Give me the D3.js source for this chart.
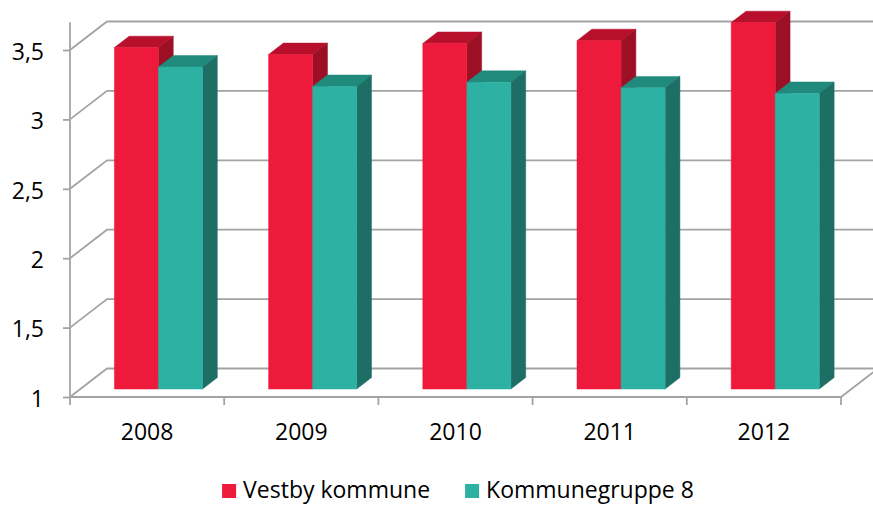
<!DOCTYPE html>
<html>
<head>
<meta charset="utf-8">
<script src="https://cdn.jsdelivr.net/npm/d3@7"></script>
<style>
  html, body { margin: 0; padding: 0; background: #fff; }
  svg { display: block; font-family: "Open Sans", sans-serif; }
</style>
</head>
<body>
<svg width="873" height="505"></svg>
<script>
// Data
const years = ["2008", "2009", "2010", "2011", "2012"];
const seriesNames = ["Vestby kommune", "Kommunegruppe 8"];
const vestby = [3.46, 3.41, 3.49, 3.51, 3.64];
const kommunegruppe = [3.32, 3.18, 3.21, 3.17, 3.13];
const yTicks = [1, 1.5, 2, 2.5, 3, 3.5];
const yAxisTop = 3.7;

// Colours: front, top, side for each series
const colors = [
  { front: "#ee1a3b", top: "#b8102c", side: "#9c1025" },
  { front: "#2cb1a3", top: "#208a7c", side: "#1d6f66" }
];

const width = 873, height = 505;
const depthX = 37, depthY = 28.5;   // offset from front to back wall
const barZ0 = 0.28, barZ1 = 0.68;   // bar depth inside the floor

const svg = d3.select("svg");

const x = d3.scaleBand().domain(years).range([70, 841]);
const xs = d3.scaleBand().domain(seriesNames).range([1, x.bandwidth() + 1]).paddingOuter(0.75);
const y = d3.scaleLinear().domain([1, 3.5]).range([397, 50]);

const proj = (px, v, z) => [px + z * depthX, y(v) - z * depthY];

const fmt = d3.formatLocale({ decimal: ",", thousands: " ", grouping: [3], currency: ["", " kr"] }).format("~g");

// Walls / gridlines
const grid = svg.append("g")
  .attr("fill", "none")
  .attr("stroke", "#a3a3a3")
  .attr("stroke-width", 1.8);

yTicks.forEach(v => {
  const a = proj(x.range()[0], v, 0), b = proj(x.range()[0], v, 1);
  grid.append("polyline")
    .attr("points", [a, b, [width + 10, b[1]]].map(p => p.join(",")).join(" "));
});

// floor front edge and right edge
const fl = proj(x.range()[0], 1, 0), fr = proj(x.range()[1], 1, 0), br = proj(x.range()[1], 1, 1);
grid.append("polyline").attr("points", [fl, fr, br].map(p => p.join(",")).join(" "));

// vertical axis line
grid.append("line")
  .attr("x1", x.range()[0]).attr("x2", x.range()[0])
  .attr("y1", y(1)).attr("y2", y(yAxisTop));

// x ticks at category boundaries
const bounds = years.map(d => x(d)).concat([x.range()[1]]);
grid.selectAll(".xt").data(bounds).join("line")
  .attr("x1", d => d).attr("x2", d => d)
  .attr("y1", y(1)).attr("y2", y(1) + 8);

// y ticks and labels
const yAxis = svg.append("g")
  .attr("transform", `translate(${x.range()[0]},0)`)
  .call(d3.axisLeft(y).tickValues(yTicks).tickSize(7).tickPadding(19).tickFormat(fmt));
yAxis.select(".domain").remove();
yAxis.selectAll(".tick line").attr("stroke", "#a3a3a3").attr("stroke-width", 1.8);
yAxis.selectAll(".tick text")
  .attr("font-family", "Open Sans, sans-serif")
  .attr("font-size", 23)
  .attr("fill", "#000")
  .attr("dy", "0.4em");

// x labels
svg.append("g").selectAll("text").data(years).join("text")
  .attr("x", d => x(d) + x.bandwidth() / 2)
  .attr("y", 440)
  .attr("text-anchor", "middle")
  .attr("font-size", 23)
  .text(d => d);

// Bars (left to right so later bars cover earlier side faces)
const values = [vestby, kommunegruppe];
const bars = svg.append("g");
const pts = arr => arr.map(p => p.join(",")).join(" ");

years.forEach((yr, i) => {
  seriesNames.forEach((s, j) => {
    const v = values[j][i];
    const x0 = x(yr) + xs(s), x1 = x0 + xs.bandwidth();
    const c = colors[j];
    const g = bars.append("g");
    // top
    g.append("polygon")
      .attr("points", pts([proj(x0, v, barZ0), proj(x1, v, barZ0), proj(x1, v, barZ1), proj(x0, v, barZ1)]))
      .attr("fill", c.top).attr("stroke", c.top).attr("stroke-width", 0.5);
    // side
    g.append("polygon")
      .attr("points", pts([proj(x1, v, barZ0), proj(x1, v, barZ1), proj(x1, 1, barZ1), proj(x1, 1, barZ0)]))
      .attr("fill", c.side).attr("stroke", c.side).attr("stroke-width", 0.5);
    // front
    g.append("polygon")
      .attr("points", pts([proj(x0, v, barZ0), proj(x1, v, barZ0), proj(x1, 1, barZ0), proj(x0, 1, barZ0)]))
      .attr("fill", c.front).attr("stroke", c.front).attr("stroke-width", 0.5);
  });
});

// Legend
const legend = svg.append("g");
const items = legend.selectAll("g").data(seriesNames).join("g");
items.append("rect").attr("width", 14).attr("height", 14).attr("y", -14)
  .attr("fill", (d, i) => colors[i].front);
items.append("text").attr("x", 21).attr("y", 0).attr("font-size", 23).text(d => d);

let lx = 0;
const gap = 35;
items.each(function () {
  const w = 21 + d3.select(this).select("text").node().getComputedTextLength();
  d3.select(this).attr("transform", `translate(${lx},0)`);
  lx += w + gap;
});
const legendWidth = lx - gap;
legend.attr("transform", `translate(${458 - legendWidth / 2},498)`);
</script>
</body>
</html>
